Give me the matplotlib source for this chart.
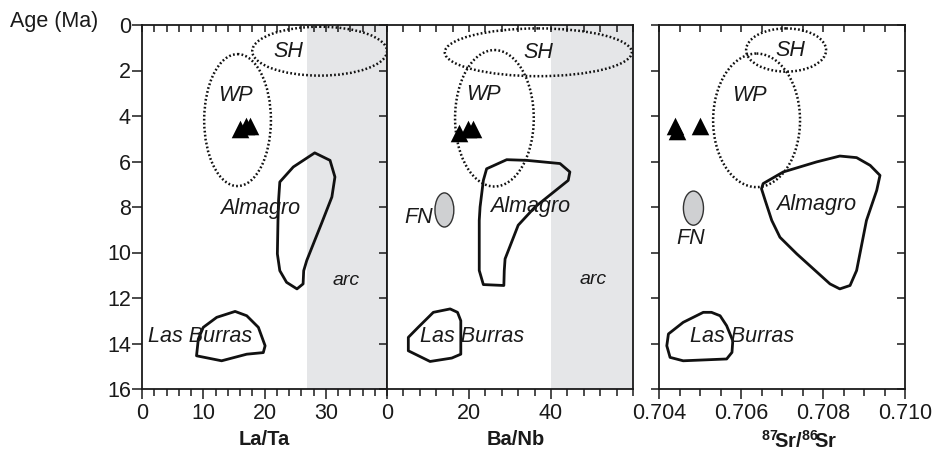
import matplotlib
matplotlib.use("Agg")
import matplotlib.pyplot as plt
from matplotlib.patches import Ellipse, Polygon
from matplotlib.ticker import MultipleLocator, FixedLocator

plt.rcParams['font.family'] = ['Liberation Sans', 'DejaVu Sans']
plt.rcParams['mathtext.fontset'] = 'custom'
plt.rcParams['mathtext.rm'] = 'Liberation Sans'
plt.rcParams['mathtext.bf'] = 'Liberation Sans:bold'

# ---------------- data ----------------
age_ticks = [0, 2, 4, 6, 8, 10, 12, 14, 16]

# Panel 1: La/Ta
p1_tri_x = [16.0, 17.0, 17.6]
p1_tri_y = [4.55, 4.45, 4.45]
p1_arc = (27, 40)
p1_sh = (29.0, 1.15, 22.0, 2.15)
p1_wp = (15.6, 4.18, 10.9, 5.8)
p1_almagro_x = [28.2, 24.7, 22.5, 22.3, 22.2, 22.1, 22.5, 23.6, 25.3, 26.3, 26.4, 26.9, 28.2, 29.3, 31.0, 31.5, 30.7]
p1_almagro_y = [5.62, 6.24, 6.9, 7.7, 8.59, 10.06, 10.8, 11.31, 11.6, 11.38, 10.8, 10.35, 9.47, 8.73, 7.56, 6.68, 5.95]
p1_burras_x = [15.2, 12.2, 10.0, 9.2, 8.9, 13.0, 17.1, 19.8, 20.1, 19.0, 17.1]
p1_burras_y = [12.59, 12.85, 13.29, 13.8, 14.54, 14.76, 14.47, 14.4, 14.1, 13.29, 12.78]
p1_ticklabels = ['0', '10', '20', '30']

# Panel 2: Ba/Nb
p2_tri_x = [17.6, 19.8, 21.0]
p2_tri_y = [4.74, 4.55, 4.55]
p2_arc = (40, 60)
p2_sh = (36.9, 1.2, 45.6, 2.1)
p2_wp = (26.2, 4.1, 19.2, 6.0)
p2_fn = (14.0, 8.13, 4.6, 1.5)
p2_almagro_x = [24.3, 29.2, 34.1, 42.2, 44.6, 44.2, 36.1, 32.0, 28.8, 28.6, 28.5, 23.5, 22.5, 22.5, 22.7, 23.5]
p2_almagro_y = [6.32, 5.92, 5.95, 6.09, 6.46, 6.83, 8.0, 8.8, 10.28, 10.8, 11.45, 11.41, 10.79, 8.59, 8.0, 6.83]
p2_burras_x = [15.4, 11.3, 7.6, 5.2, 5.2, 10.5, 15.8, 18.0, 18.0, 17.2]
p2_burras_y = [12.48, 12.63, 13.29, 13.73, 14.32, 14.79, 14.64, 14.47, 13.0, 12.63]
p2_ticklabels = ['0', '20', '40']

# Panel 3: 87Sr/86Sr
p3_tri_x = [0.70438, 0.70445, 0.70499]
p3_tri_y = [4.44, 4.66, 4.42]
p3_sh = (0.7071, 1.1, 0.00195, 1.9)
p3_wp = (0.70638, 4.19, 0.00212, 5.87)
p3_fn = (0.70484, 8.05, 0.00049, 1.5)
p3_almagro_x = [0.70654, 0.70703, 0.70784, 0.70841, 0.70882, 0.70915, 0.70939, 0.70931,
                0.70906, 0.70882, 0.70866, 0.70841, 0.70817, 0.70736, 0.70695, 0.70675, 0.70659, 0.70650]
p3_almagro_y = [6.97, 6.46, 6.02, 5.76, 5.83, 6.17, 6.61, 7.27,
                8.59, 10.79, 11.45, 11.6, 11.38, 10.06, 9.33, 8.59, 7.71, 7.2]
p3_burras_x = [0.70528, 0.70508, 0.70459, 0.70423, 0.70419, 0.70427, 0.70459, 0.70565, 0.70578, 0.70580, 0.70565, 0.70549]
p3_burras_y = [12.63, 12.63, 13.07, 13.58, 14.1, 14.61, 14.76, 14.68, 14.39, 13.88, 13.22, 12.78]
p3_ticks = [0.704, 0.706, 0.708, 0.710]
p3_ticklabels = ['0.704', '0.706', '0.708', '0.710']

# ---------------- figure ----------------
fig = plt.figure(figsize=(9.39, 4.51), dpi=100)
bot, h = 1 - 389 / 451, (389 - 25) / 451
ax1 = fig.add_axes([142 / 939, bot, 245 / 939, h])
ax2 = fig.add_axes([387 / 939, bot, 246 / 939, h])
ax3 = fig.add_axes([659 / 939, bot, 246 / 939, h])

GRAY = '#e5e6e8'
LW_OUT = 2.0
TICK_FS = 15.5
ITAL_FS = 15.5
INK = '#1a1a1a'
XLAB_Y = -0.113


def dotted_ellipse(ax, e):
    ax.add_patch(Ellipse((e[0], e[1]), e[2], e[3], fill=False, edgecolor='#111111',
                         linewidth=1.8, linestyle=(0, (0.7, 0.9)), zorder=3))


def fn_ellipse(ax, e):
    ax.add_patch(Ellipse((e[0], e[1]), e[2], e[3], facecolor='#cfd0d2', edgecolor='#333333',
                         linewidth=1.0, zorder=3))


def outline(ax, xs, ys):
    ax.add_patch(Polygon(list(zip(xs, ys)), closed=True, fill=False, edgecolor='#111111',
                         linewidth=LW_OUT, joinstyle='round', zorder=4))


def label(ax, x, y, s, fs=ITAL_FS):
    ax.text(x, y, s, fontsize=fs, style='italic', ha='center', va='center', color=INK, zorder=6)


for ax in (ax1, ax2, ax3):
    ax.set_ylim(16, 0)
    for sp in ax.spines.values():
        sp.set_linewidth(1.3)
        sp.set_color(INK)
    ax.tick_params(which='both', width=1.1, color=INK, labelsize=TICK_FS, labelcolor=INK)

# Panel 1
ax1.set_xlim(0, 40)
ax1.axvspan(*p1_arc, color=GRAY, zorder=0, linewidth=0)
dotted_ellipse(ax1, p1_sh)
dotted_ellipse(ax1, p1_wp)
outline(ax1, p1_almagro_x, p1_almagro_y)
outline(ax1, p1_burras_x, p1_burras_y)
ax1.scatter(p1_tri_x, p1_tri_y, marker='^', s=160, color='black', zorder=5, linewidths=0)
label(ax1, 23.9, 1.17, 'SH')
label(ax1, 15.2, 3.08, 'WP')
label(ax1, 19.3, 8.07, 'Almagro')
label(ax1, 9.5, 13.7, 'Las Burras')
label(ax1, 33.3, 11.23, 'arc', 14)
ax1.xaxis.set_major_locator(FixedLocator([0, 10, 20, 30]))
ax1.set_xticklabels(p1_ticklabels)
ax1.xaxis.set_minor_locator(MultipleLocator(2))
ax1.set_yticks(age_ticks)
ax1.set_yticklabels([str(v) for v in age_ticks])
ax1.tick_params(axis='x', which='major', direction='out', length=7, pad=3, top=True)
ax1.tick_params(axis='x', which='minor', direction='out', length=5, top=True)
ax1.tick_params(axis='y', which='major', direction='out', length=7, pad=1, right=True)
for t in ax1.xaxis.get_major_ticks() + ax1.xaxis.get_minor_ticks():
    t.tick2line.set_marker(3)  # TICKDOWN
    t.tick2line.set_markersize(5)
for t in ax1.yaxis.get_major_ticks():
    t.tick2line.set_marker(0)  # TICKLEFT
    t.tick2line.set_markersize(6)
ax1.set_xlabel('La/Ta', fontsize=14.5, fontweight='bold', color=INK)
ax1.xaxis.set_label_coords(0.5, XLAB_Y)
fig.text(10 / 939, 1 - 22 / 451, 'Age (Ma)', fontsize=15.5, ha='left', va='center', color=INK)

# Panel 2
ax2.set_xlim(0, 60)
ax2.axvspan(*p2_arc, color=GRAY, zorder=0, linewidth=0)
dotted_ellipse(ax2, p2_sh)
dotted_ellipse(ax2, p2_wp)
fn_ellipse(ax2, p2_fn)
outline(ax2, p2_almagro_x, p2_almagro_y)
outline(ax2, p2_burras_x, p2_burras_y)
ax2.scatter(p2_tri_x, p2_tri_y, marker='^', s=160, color='black', zorder=5, linewidths=0)
label(ax2, 36.9, 1.2, 'SH')
label(ax2, 23.5, 3.05, 'WP')
label(ax2, 34.9, 7.96, 'Almagro')
label(ax2, 7.6, 8.44, 'FN')
label(ax2, 20.7, 13.7, 'Las Burras')
label(ax2, 50.3, 11.2, 'arc', 14)
ax2.xaxis.set_major_locator(FixedLocator([0, 20, 40]))
ax2.set_xticklabels(p2_ticklabels)
ax2.xaxis.set_minor_locator(FixedLocator([4, 8, 12, 16, 24, 28, 32, 36, 44, 48, 52, 56, 60]))
ax2.tick_params(axis='x', which='major', direction='out', length=7, pad=3, top=True)
ax2.tick_params(axis='x', which='minor', direction='out', length=5, top=True)
for t in ax2.xaxis.get_major_ticks() + ax2.xaxis.get_minor_ticks():
    t.tick2line.set_marker(3)
    t.tick2line.set_markersize(5)
ax2.set_yticks(age_ticks)
ax2.tick_params(axis='y', which='both', left=False, right=False, labelleft=False)
ax2.set_xlabel('Ba/Nb', fontsize=14.5, fontweight='bold', color=INK)
ax2.xaxis.set_label_coords(0.525, XLAB_Y)

# Panel 3
ax3.set_xlim(0.704, 0.710)
dotted_ellipse(ax3, p3_sh)
dotted_ellipse(ax3, p3_wp)
fn_ellipse(ax3, p3_fn)
outline(ax3, p3_almagro_x, p3_almagro_y)
outline(ax3, p3_burras_x, p3_burras_y)
ax3.scatter(p3_tri_x, p3_tri_y, marker='^', s=160, color='black', zorder=5, linewidths=0)
label(ax3, 0.70720, 1.1, 'SH')
label(ax3, 0.70620, 3.1, 'WP')
label(ax3, 0.70784, 7.89, 'Almagro')
label(ax3, 0.70477, 9.4, 'FN')
label(ax3, 0.70602, 13.7, 'Las Burras')
ax3.xaxis.set_major_locator(FixedLocator(p3_ticks))
ax3.set_xticklabels(p3_ticklabels)
ax3.xaxis.set_minor_locator(MultipleLocator(0.0005))
ax3.tick_params(axis='x', which='major', direction='out', length=7, pad=3, top=True)
ax3.tick_params(axis='x', which='minor', direction='out', length=5, top=True)
for t in ax3.xaxis.get_major_ticks() + ax3.xaxis.get_minor_ticks():
    t.tick2line.set_marker(3)
    t.tick2line.set_markersize(5)
ax3.set_yticks(age_ticks)
ax3.tick_params(axis='y', which='major', direction='out', length=6, right=True, labelleft=False)
for t in ax3.yaxis.get_major_ticks():
    t.tick2line.set_marker(0)
    t.tick2line.set_markersize(6)
ax3.set_xlabel(r'$\mathbf{^{87}\!Sr/^{86}\!Sr}$', fontsize=14.5, color=INK)
ax3.xaxis.set_label_coords(0.57, XLAB_Y)

fig.savefig('out.png', dpi=100)
